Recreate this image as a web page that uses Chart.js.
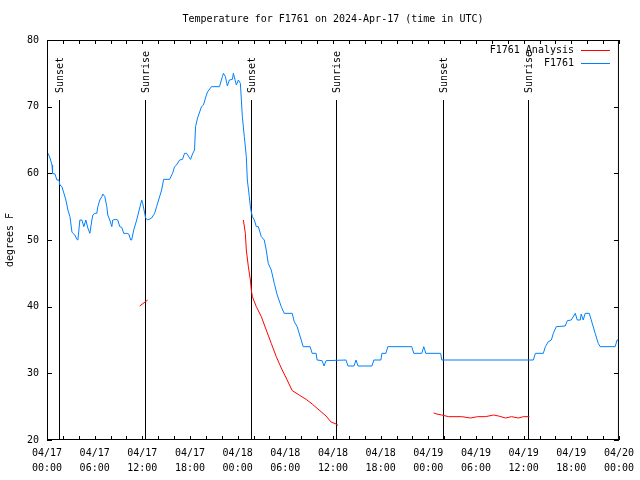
<!DOCTYPE html>
<html>
<head>
<meta charset="utf-8">
<title>Temperature for F1761</title>
<script src="https://cdn.jsdelivr.net/npm/chart.js@4.4.1/dist/chart.umd.min.js"></script>
<style>
    html, body { margin: 0; padding: 0; background: #ffffff; }
    canvas { display: block; }
</style>
</head>
<body>
<canvas id="tempChart" width="640" height="480"></canvas>
<script>
// hours since 2024-04-17 00:00 UTC
const obsHours = [
    0.13, 0.38, 0.63, 0.7, 1.0, 1.25, 1.5, 1.63, 1.88, 2.13, 2.38, 2.63, 2.89, 3.14, 3.26, 3.51,
    3.76, 3.89, 4.14, 4.39, 4.64, 4.89, 5.14, 5.4, 5.65, 5.77, 6.02, 6.27, 6.4, 6.65, 6.9, 7.03,
    7.28, 7.53, 7.65, 7.9, 8.16, 8.28, 8.66, 8.91, 9.16, 9.41, 9.66, 10.04, 10.29, 10.54, 10.66,
    10.92, 11.29, 11.54, 11.92, 12.05, 12.3, 12.42, 12.67, 13.17, 13.55, 13.8, 14.05, 14.43,
    14.68, 15.43, 15.81, 16.06, 16.31, 16.69, 17.06, 17.31, 17.57, 18.07, 18.32, 18.57, 18.7,
    18.95, 19.45, 19.7, 19.95, 20.2, 20.7, 21.71, 22.08, 22.21, 22.46, 22.71, 22.96, 23.34,
    23.46, 23.84, 24.09, 24.34, 24.47, 24.59, 24.84, 25.09, 25.22, 25.47, 25.6, 25.72, 25.85,
    26.1, 26.35, 26.6, 26.98, 27.35, 27.6, 27.85, 28.23, 28.61, 28.98, 29.49, 29.86, 30.87,
    31.12, 31.49, 32.0, 32.25, 33.12, 33.38, 33.88, 34.0, 34.63, 34.88, 35.13, 37.64, 37.89,
    38.64, 38.9, 39.15, 40.9, 41.15, 42.03, 42.16, 42.66, 42.91, 45.92, 46.17, 47.18, 47.43,
    47.68, 49.56, 49.69, 61.23, 61.48, 62.48, 62.74, 63.11, 63.49, 63.74, 64.11, 65.24, 65.5,
    66.0, 66.5, 66.75, 67.13, 67.25, 67.5, 67.75, 68.26, 68.51, 69.01, 69.39, 69.64, 71.52,
    71.77, 72.0,
];
const obsTemps = [
    63, 62.3, 61.25, 60, 59.9, 59, 59, 58.25, 58, 57, 56, 54.5, 53.5, 51.2, 51, 50.75,
    50.1, 50, 53, 53, 52, 53, 51.8, 51, 53, 53.75, 54, 54, 55, 56, 56.5, 56.9,
    56.5, 55, 53.75, 53, 52, 53, 53.1, 53, 52, 51.9, 51, 51, 50.9, 50, 50,
    51.5, 53, 54.2, 56, 55.5, 54, 53.3, 53, 53.3, 54, 55, 56, 57.5,
    59.1, 59.1, 60, 61, 61.25, 62, 62.1, 63, 63, 62.1, 62.9, 63.5, 67,
    68.3, 70, 70.25, 71.3, 72.2, 73, 73, 74.5, 75, 74.5, 73.1, 74, 74.1,
    75, 73.25, 74, 73.5, 71, 68.5, 65.5, 62.5, 59, 56.5, 55, 54.2, 53.5,
    53, 52, 52, 50.5, 50, 48.5, 46.5, 45.5, 43.5, 41.75, 40, 39, 39,
    37.75, 37, 35, 34, 34, 33, 33, 32, 31.9, 31.1, 31.9, 32, 31.1,
    31.1, 32, 31.1, 31.1, 32, 32, 33, 33, 34, 34, 33, 33, 34,
    33, 33, 32, 32, 33, 33, 34, 34.75, 35, 36, 37, 37.1, 37.9,
    38, 39, 38, 38, 38.9, 38, 39, 39, 38, 36, 34.5, 34, 34,
    35, 35,
];

const anaHours = [
    11.67, 12.67, 13.0,
    24.72, 24.97, 25.09, 25.35, 25.6, 25.72, 25.85, 26.35, 26.98, 27.6, 28.23, 28.86, 29.49,
    30.11, 30.87, 31.74, 32.62, 33.38, 34.25, 35.13, 35.76, 36.39, 36.64, 37.0,
    48.68, 49.06, 49.69, 50.56, 52.2, 53.32, 54.2, 55.2, 56.21, 56.84, 57.72, 58.47, 59.35,
    59.98, 60.73,
];
const anaTemps = [
    40.1, 41, null,
    53, 51, 48.5, 46, 44, 42.5, 41.5, 40, 38.5, 36.5, 34.5, 32.5, 30.8,
    29.3, 27.4, 26.75, 26.1, 25.4, 24.5, 23.6, 22.7, 22.4, 22.2, null,
    24.05, 23.9, 23.75, 23.5, 23.5, 23.3, 23.5, 23.5, 23.75, 23.6, 23.3, 23.5, 23.3,
    23.5, 23.5,
];

const sunHours = [1.55, 12.36, 25.67, 36.36, 49.8, 60.5];
const sunLabels = ["Sunset", "Sunrise", "Sunset", "Sunrise", "Sunset", "Sunrise"];

const FONT = "10px 'DejaVu Sans Mono'";

const toPoints = (hours, temps) => hours.map((h, i) => ({ x: h, y: temps[i] }));

const pad2 = (n) => String(n).padStart(2, "0");

// frame, inward tics, sun lines, legend and title in gnuplot style
const gnuplotDecor = {
    id: "gnuplotDecor",
    beforeDatasetsDraw: (chart) => {
        const { ctx, chartArea: { bottom }, scales: { x, y } } = chart;
        ctx.save();
        ctx.strokeStyle = "#000000";
        ctx.lineWidth = 1;
        ctx.fillStyle = "#000000";
        ctx.font = FONT;
        const topY = Math.round(y.getPixelForValue(71));
        sunHours.forEach((h, i) => {
            const px = Math.round(x.getPixelForValue(h)) + 0.5;
            ctx.beginPath();
            ctx.moveTo(px, bottom);
            ctx.lineTo(px, topY);
            ctx.stroke();
            ctx.save();
            ctx.translate(px + 1, topY - 7);
            ctx.rotate(-Math.PI / 2);
            ctx.textAlign = "left";
            ctx.textBaseline = "middle";
            ctx.fillText(sunLabels[i], 0, 0);
            ctx.restore();
        });
        ctx.restore();
    },
    afterDraw: (chart) => {
        const { ctx, chartArea: { left, right, top, bottom }, scales: { x, y } } = chart;
        ctx.save();
        ctx.strokeStyle = "#000000";
        ctx.lineWidth = 1;
        ctx.strokeRect(left + 0.5, top + 0.5, right - left - 1, bottom - top - 1);

        ctx.beginPath();
        for (let h = 0; h <= 72; h += 2) {
            const px = Math.round(x.getPixelForValue(h)) + 0.5;
            ctx.moveTo(px, bottom);
            ctx.lineTo(px, bottom - 4);
            ctx.moveTo(px, top);
            ctx.lineTo(px, top + 4);
        }
        for (let t = 20; t <= 80; t += 10) {
            const py = Math.round(y.getPixelForValue(t)) + 0.5;
            ctx.moveTo(left, py);
            ctx.lineTo(left + 5, py);
            ctx.moveTo(right, py);
            ctx.lineTo(right - 5, py);
        }
        ctx.stroke();

        ctx.font = FONT;
        ctx.fillStyle = "#000000";
        ctx.textAlign = "center";
        ctx.textBaseline = "middle";
        ctx.fillText("Temperature for F1761 on 2024-Apr-17 (time in UTC)", (left + right) / 2, 19);

        chart.data.datasets.forEach((ds, i) => {
            const ly = 50 + i * 13;
            ctx.textAlign = "right";
            ctx.fillStyle = "#000000";
            ctx.fillText(ds.label, 574, ly);
            ctx.strokeStyle = ds.borderColor;
            ctx.beginPath();
            ctx.moveTo(581, ly + 0.5);
            ctx.lineTo(610, ly + 0.5);
            ctx.stroke();
        });
        ctx.restore();
    },
};

const ctx = document.getElementById("tempChart").getContext("2d");
const tempChart = new Chart(ctx, {
    type: "line",
    data: {
        datasets: [
            {
                label: "F1761 Analysis",
                data: toPoints(anaHours, anaTemps),
                borderColor: "#ff0000",
                borderWidth: 1,
                pointRadius: 0,
                spanGaps: false,
            },
            {
                label: "F1761",
                data: toPoints(obsHours, obsTemps),
                borderColor: "#0080ff",
                borderWidth: 1,
                pointRadius: 0,
            },
        ],
    },
    options: {
        responsive: false,
        animation: false,
        layout: {
            padding: { top: 40, right: 19, left: 0, bottom: 0 },
        },
        scales: {
            x: {
                type: "linear",
                min: 0,
                max: 72,
                afterFit: (scale) => {
                    scale.height = 40;
                },
                grid: { display: false, drawTicks: false },
                border: { display: false },
                ticks: {
                    stepSize: 6,
                    padding: 6,
                    maxRotation: 0,
                    autoSkip: false,
                    color: "#000000",
                    font: { family: "DejaVu Sans Mono", size: 10, lineHeight: 1.5 },
                    callback: (v) => {
                        const day = 17 + Math.floor(v / 24);
                        return ["04/" + pad2(day), pad2(v % 24) + ":00"];
                    },
                },
            },
            y: {
                min: 20,
                max: 80,
                afterFit: (scale) => {
                    scale.width = 47;
                },
                grid: { display: false, drawTicks: false },
                border: { display: false },
                ticks: {
                    stepSize: 10,
                    padding: 8,
                    color: "#000000",
                    font: { family: "DejaVu Sans Mono", size: 10 },
                },
                title: {
                    display: true,
                    text: "degrees F",
                    color: "#000000",
                    font: { family: "DejaVu Sans Mono", size: 10 },
                    padding: { top: 4, bottom: 0 },
                },
            },
        },
        plugins: {
            legend: { display: false },
            tooltip: { enabled: false },
        },
    },
    plugins: [gnuplotDecor],
});
</script>
</body>
</html>
